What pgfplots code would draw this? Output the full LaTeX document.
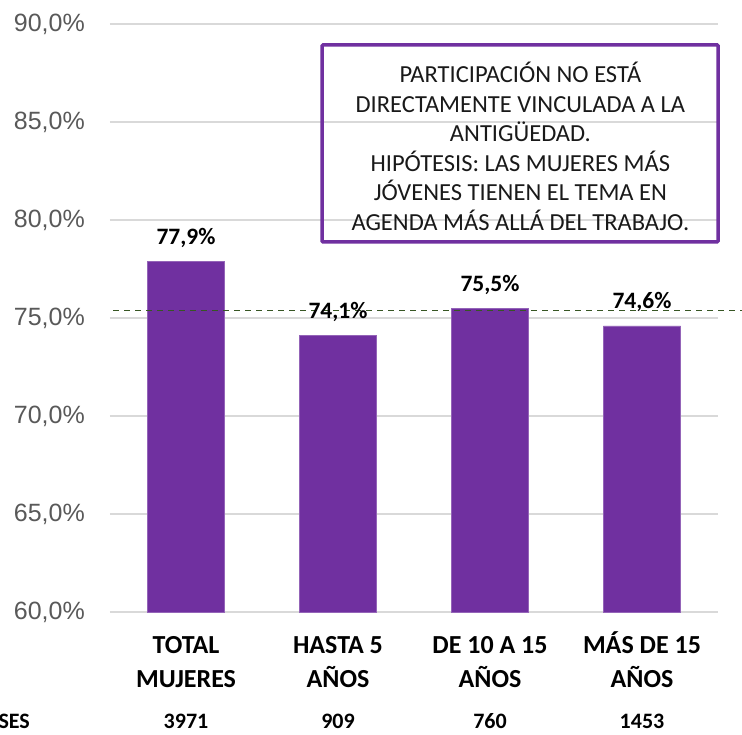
\documentclass[border=0pt]{standalone}
\usepackage{fontspec}
\setmainfont{Carlito}
\newfontfamily\arialfont{Liberation Sans}
\usepackage{pgfplots}
\pgfplotsset{compat=1.18}
\definecolor{barpurple}{HTML}{7030A0}
\definecolor{gridgray}{HTML}{D9D9D9}
\definecolor{ticktext}{HTML}{595959}
\definecolor{refgreen}{HTML}{375623}

\begin{document}
\begin{tikzpicture}
\begin{axis}[
    at={(0,0)}, anchor=south west,
    scale only axis,
    width=608pt, height=588pt,
    xmin=-0.5, xmax=3.5,
    ymin=60, ymax=90,
    ytick={60,65,70,75,80,85,90},
    yticklabel={\pgfmathprintnumber[fixed,fixed zerofill,precision=1,use comma,assume math mode=true]{\tick}\%},
    yticklabel style={font=\arialfont\fontsize{25}{30}\selectfont, text=ticktext, anchor=east, inner sep=0pt, xshift=-25pt},
    xtick={0,1,2,3},
    xticklabels={{TOTAL\\MUJERES},{HASTA 5\\AÑOS},{DE 10 A 15\\AÑOS},{MÁS DE 15\\AÑOS}},
    xticklabel style={align=center, font=\bfseries\fontsize{26}{34}\selectfont, anchor=base, inner sep=0pt, yshift=-75pt},
    major tick length=0pt,
    axis line style={draw=none},
    ymajorgrids=true,
    grid style={draw=gridgray, line width=1.3pt},
    ybar,
    bar width=77pt,
    clip=false,
]
\addplot[fill=barpurple, draw=barpurple!75!white, line width=0.6pt,
    nodes near coords={\pgfmathprintnumber[fixed,fixed zerofill,precision=1,use comma,assume math mode=true]{\pgfplotspointmeta}\%},
    nodes near coords style={font=\bfseries\fontsize{23.5}{28}\selectfont, anchor=base, inner sep=0pt, yshift=17pt}]
    coordinates {(0,77.9) (1,74.1) (2,75.5) (3,74.6)};

% reference line (overall level)
\addplot[sharp plot, refgreen, line width=1.2pt, dash pattern=on 6pt off 5pt, forget plot]
    coordinates {(-0.48,75.4) (3.7,75.4)};

% comment box
\draw[barpurple, line width=3.5pt, rounded corners=1pt]
    (axis cs:0.895,78.88) rectangle (axis cs:3.5,88.93);
\node[align=center, font=\fontsize{24.5}{29.5}\selectfont, text=black!90]
    at (axis cs:2.2,83.75) {PARTICIPACIÓN NO ESTÁ\\DIRECTAMENTE VINCULADA A LA\\ANTIGÜEDAD.\\HIPÓTESIS: LAS MUJERES MÁS\\JÓVENES TIENEN EL TEMA EN\\AGENDA MÁS ALLÁ DEL TRABAJO.};

% bases row
\node[anchor=base east, font=\bfseries\fontsize{22}{26}\selectfont, inner sep=0pt, yshift=-116pt] at (axis cs:-1.026,60) {BASES};
\node[anchor=base, font=\bfseries\fontsize{22}{26}\selectfont, inner sep=0pt, yshift=-116pt] at (axis cs:0,60) {3971};
\node[anchor=base, font=\bfseries\fontsize{22}{26}\selectfont, inner sep=0pt, yshift=-116pt] at (axis cs:1,60) {909};
\node[anchor=base, font=\bfseries\fontsize{22}{26}\selectfont, inner sep=0pt, yshift=-116pt] at (axis cs:2,60) {760};
\node[anchor=base, font=\bfseries\fontsize{22}{26}\selectfont, inner sep=0pt, yshift=-116pt] at (axis cs:3,60) {1453};
\end{axis}
\pgfresetboundingbox
\path[use as bounding box] (-110pt,-122pt) rectangle (632pt,612pt);
\end{tikzpicture}
\end{document}
